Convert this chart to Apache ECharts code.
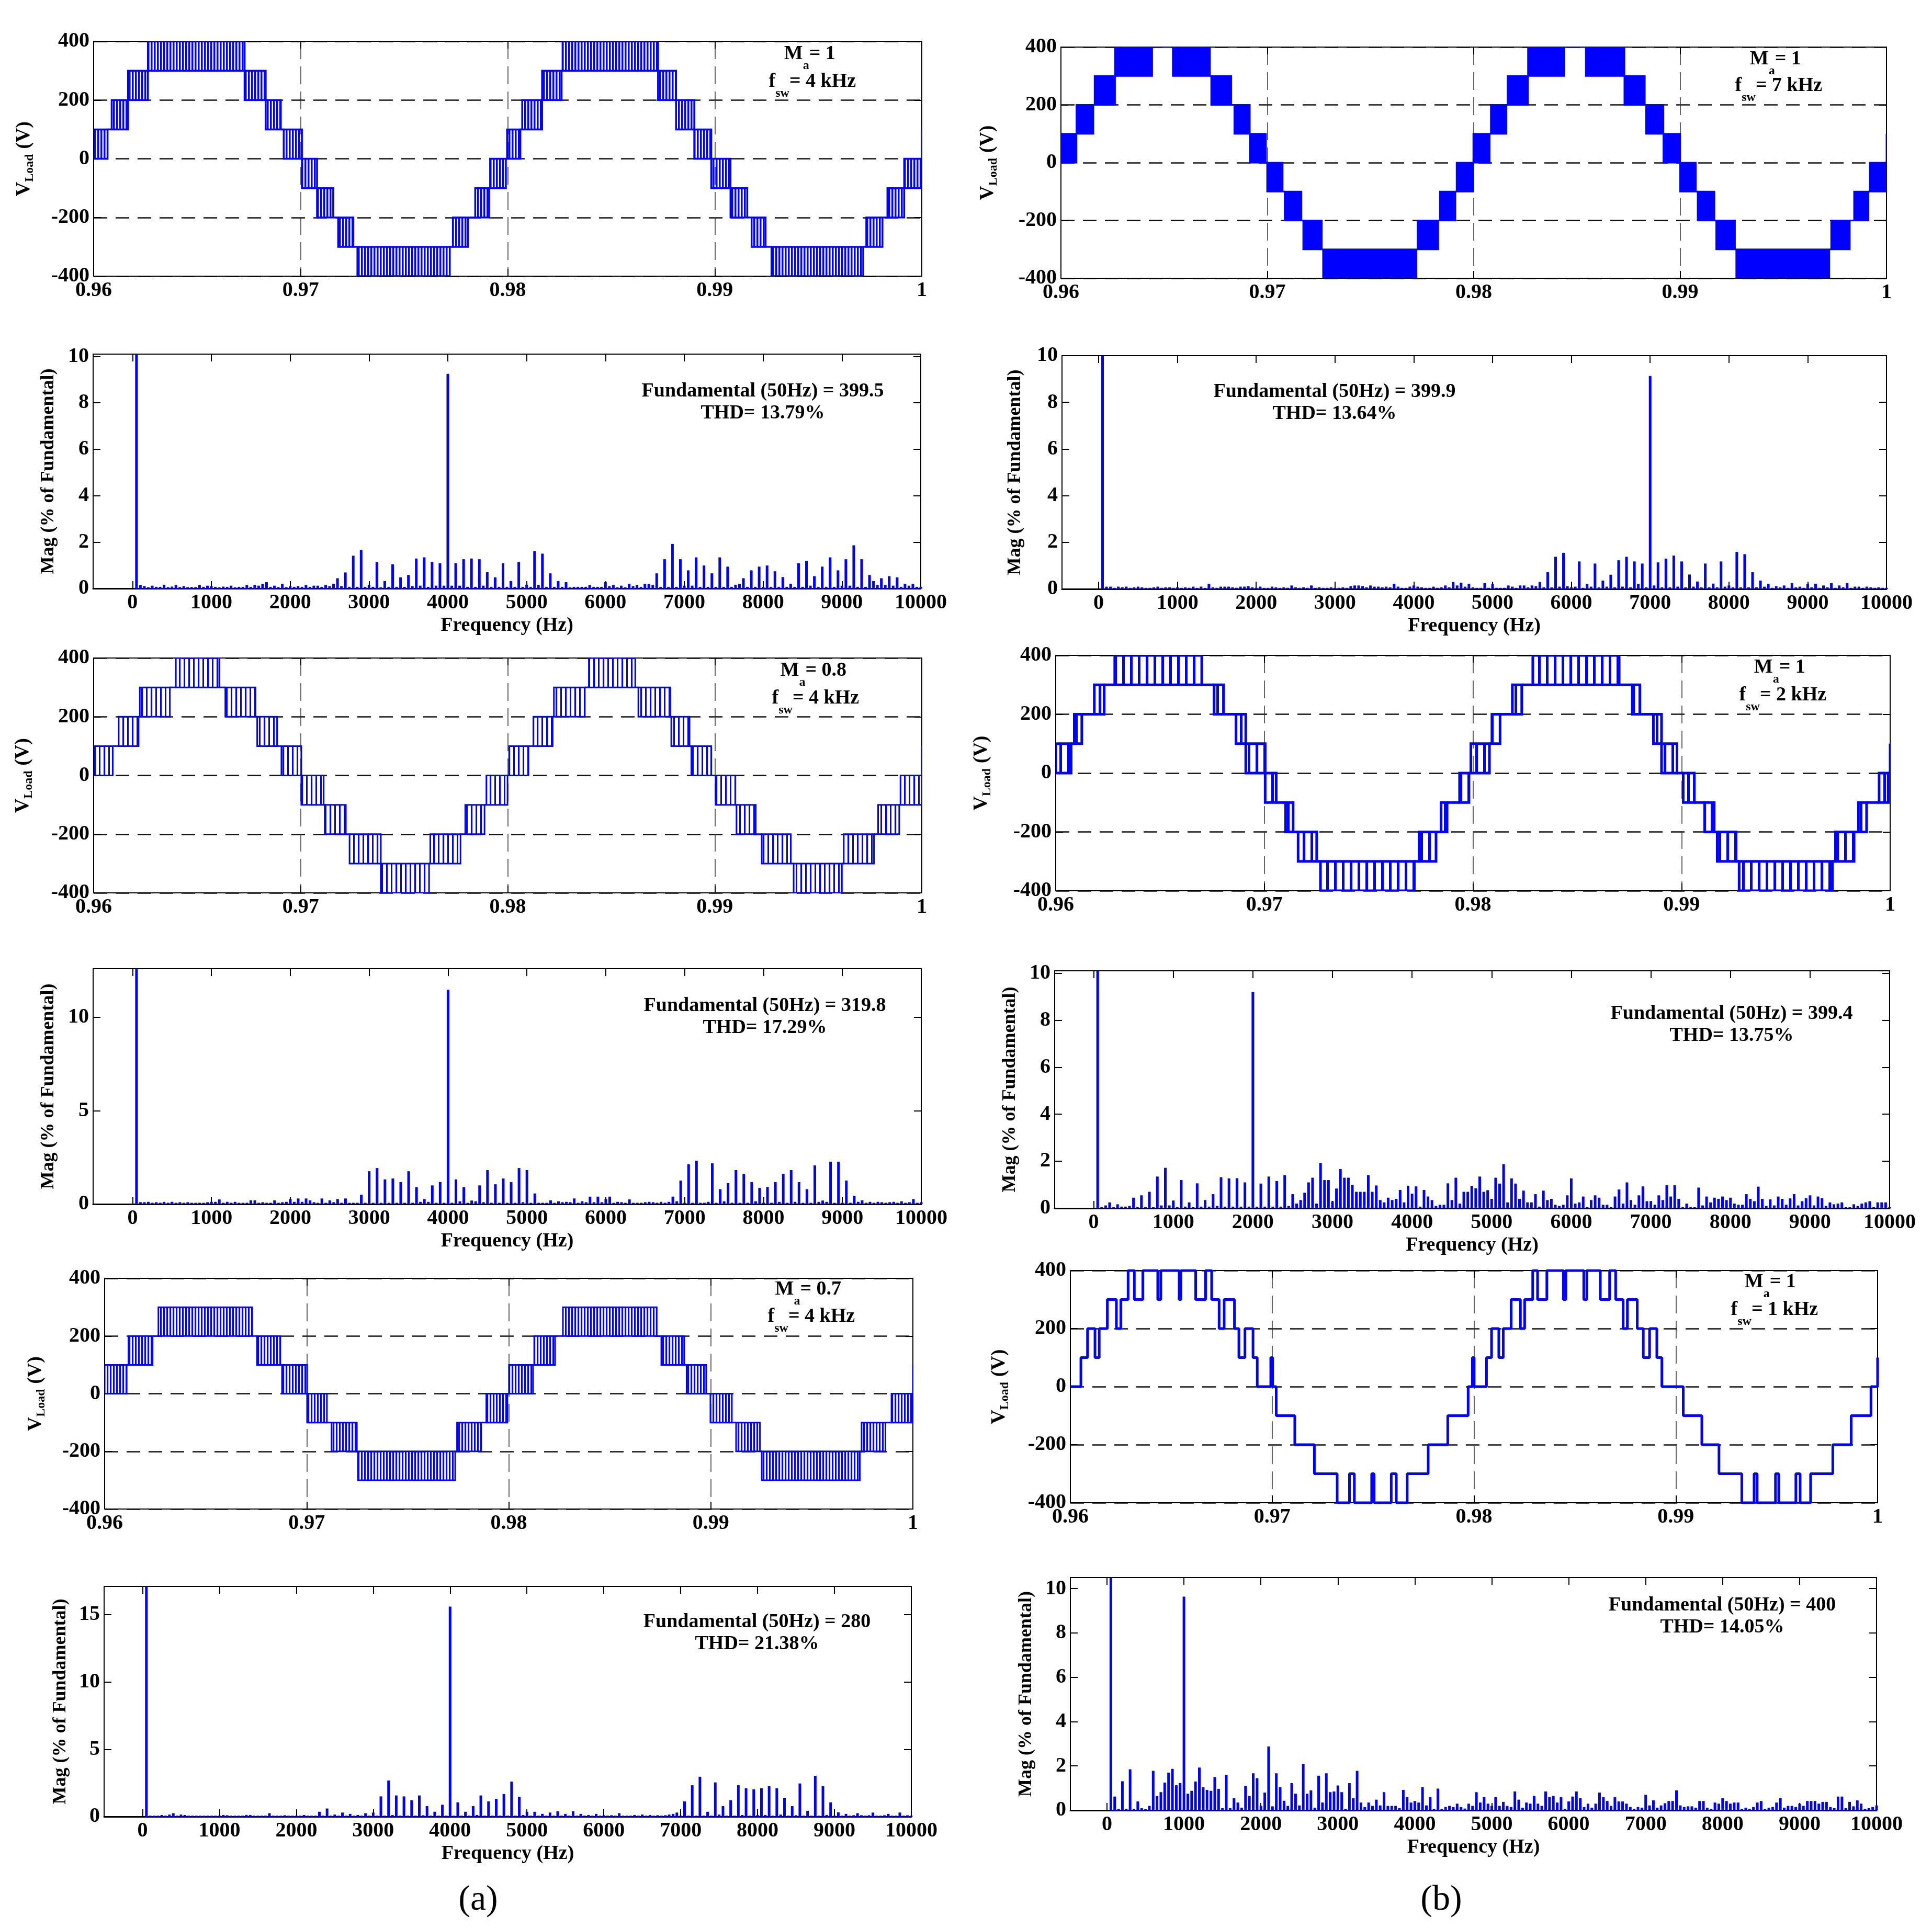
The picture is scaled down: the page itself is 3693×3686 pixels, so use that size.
<!DOCTYPE html>
<html>
<head>
<meta charset="utf-8">
<script src="https://cdn.jsdelivr.net/npm/echarts@6.0.0/dist/echarts.min.js"></script>
<style>
  html, body { margin: 0; background: #fff; }
  #chart { width: 3693px; height: 3686px; }
</style>
</head>
<body>
<div id="chart"></div>
<script>
// ---- waveform data: PWM bands [tStart, tEnd, lowLevel, highLevel] (s, V) ----
const bandsA1 = [
  [0.96, 0.96067, 0, 100], [0.96087, 0.96166, 100, 200], [0.96166, 0.96262, 200, 300],
  [0.96262, 0.96729, 300, 400], [0.96729, 0.96831, 200, 300], [0.96831, 0.96904, 100, 200],
  [0.96918, 0.97006, 0, 100], [0.97006, 0.97079, -100, 0], [0.97079, 0.97157, -200, -100],
  [0.97181, 0.97254, -300, -200], [0.97274, 0.9772, -400, -300], [0.97735, 0.97808, -300, -200],
  [0.97843, 0.9791, -200, -100], [0.97915, 0.97991, -100, 0], [0.97997, 0.98061, 0, 100],
  [0.9807, 0.98166, 100, 200], [0.98166, 0.9826, 200, 300], [0.98265, 0.98726, 300, 400],
  [0.98726, 0.98813, 200, 300], [0.98813, 0.98901, 100, 200], [0.98901, 0.98983, 0, 100],
  [0.98983, 0.99076, -100, 0], [0.99076, 0.99157, -200, -100], [0.99178, 0.99245, -300, -200],
  [0.99274, 0.99717, -400, -300], [0.99732, 0.9981, -300, -200], [0.99834, 0.99915, -200, -100],
  [0.99915, 0.99994, -100, 0], [1, 1, 0, 100]
];
const bandsA2 = [
  [0.96, 0.96092, 0, 100], [0.96121, 0.96217, 100, 200], [0.96223, 0.96368, 200, 300],
  [0.96397, 0.96607, 300, 400], [0.96636, 0.96782, 200, 300], [0.9679, 0.96886, 100, 200],
  [0.96907, 0.97003, 0, 100], [0.97003, 0.97111, -100, 0], [0.97116, 0.97218, -200, -100],
  [0.97236, 0.97387, -300, -200], [0.97387, 0.9762, -400, -300], [0.97626, 0.97772, -300, -200],
  [0.97795, 0.97888, -200, -100], [0.97897, 0.97999, -100, 0], [0.98007, 0.981, 0, 100],
  [0.98124, 0.98217, 100, 200], [0.98223, 0.98372, 200, 300], [0.98392, 0.98616, 300, 400],
  [0.98631, 0.98785, 200, 300], [0.9879, 0.98878, 100, 200], [0.98887, 0.98983, 0, 100],
  [0.99004, 0.99099, -100, 0], [0.99105, 0.99198, -200, -100], [0.99227, 0.99367, -300, -200],
  [0.99381, 0.99614, -400, -300], [0.99623, 0.99769, -300, -200], [0.99789, 0.99891, -200, -100],
  [0.99897, 1, -100, 0], [1, 1, 0, 100]
];
const bandsA3 = [
  [0.96, 0.96109, 0, 100], [0.96118, 0.96237, 100, 200], [0.96266, 0.9673, 200, 300],
  [0.96754, 0.96869, 100, 200], [0.96878, 0.97002, 0, 100], [0.97002, 0.971, -100, 0],
  [0.97123, 0.97248, -200, -100], [0.97254, 0.97735, -300, -200], [0.97744, 0.97863, -200, -100],
  [0.97889, 0.97993, -100, 0], [0.98001, 0.9812, 0, 100], [0.98126, 0.98229, 100, 200],
  [0.98268, 0.98732, 200, 300], [0.98755, 0.98868, 100, 200], [0.9888, 0.98977, 0, 100],
  [0.98998, 0.99104, -100, 0], [0.99125, 0.99243, -200, -100], [0.99252, 0.99737, -300, -200],
  [0.99746, 0.99864, -200, -100], [0.99894, 0.99997, -100, 0], [1, 1, 0, 100]
];
const bandsB1 = [
  [0.96, 0.96075, 0, 100], [0.96075, 0.96157, 100, 200], [0.96163, 0.96262, 200, 300],
  [0.96262, 0.96442, 300, 400], [0.96542, 0.96722, 300, 400], [0.96728, 0.96825, 200, 300],
  [0.9684, 0.96915, 100, 200], [0.96915, 0.96993, 0, 100], [0.96999, 0.97074, -100, 0],
  [0.97084, 0.97165, -200, -100], [0.97174, 0.97264, -300, -200], [0.9727, 0.97722, -400, -300],
  [0.97728, 0.97828, -300, -200], [0.97836, 0.97911, -200, -100], [0.97917, 0.97998, -100, 0],
  [0.97998, 0.98077, 0, 100], [0.98083, 0.98158, 100, 200], [0.98164, 0.98263, 200, 300],
  [0.98263, 0.98438, 300, 400], [0.98543, 0.9873, 300, 400], [0.9873, 0.98829, 200, 300],
  [0.98835, 0.98919, 100, 200], [0.98919, 0.99, 0, 100], [0.99, 0.99076, -100, 0],
  [0.99085, 0.99166, -200, -100], [0.99175, 0.99266, -300, -200], [0.99272, 0.99723, -400, -300],
  [0.99732, 0.99822, -300, -200], [0.99843, 0.99912, -200, -100], [0.99919, 1, -100, 0],
  [1, 1, 0, 100]
];
const bandsB2 = [
  [0.96, 0.96074, 0, 100], [0.96089, 0.96125, 100, 200], [0.96185, 0.96232, 200, 300],
  [0.96283, 0.967, 300, 400], [0.96759, 0.96804, 200, 300], [0.96864, 0.96911, 100, 200],
  [0.96911, 0.97004, 0, 100], [0.97004, 0.97057, -100, 0], [0.97102, 0.97138, -200, -100],
  [0.97162, 0.97251, -300, -200], [0.97269, 0.97719, -400, -300], [0.97742, 0.97823, -300, -200],
  [0.97847, 0.97876, -200, -100], [0.97936, 0.97981, -100, 0], [0.9799, 0.98079, 0, 100],
  [0.98091, 0.9813, 100, 200], [0.98189, 0.98234, 200, 300], [0.98287, 0.98701, 300, 400],
  [0.98764, 0.988, 200, 300], [0.98865, 0.98904, 100, 200], [0.98904, 0.98978, 0, 100],
  [0.99008, 0.99061, -100, 0], [0.99111, 0.99156, -200, -100], [0.99171, 0.99261, -300, -200],
  [0.99276, 0.99723, -400, -300], [0.99738, 0.99827, -300, -200], [0.99848, 0.99887, -200, -100],
  [0.99947, 0.99991, -100, 0], [1, 1, 0, 100]
];
// 1 kHz waveform: [time, level from this time on]
const stepsB3 = [
  [0.96, 0], [0.96052, 100], [0.96085, 200], [0.96122, 100], [0.96143, 200], [0.96183, 300],
  [0.96228, 200], [0.9625, 300], [0.96286, 400], [0.96317, 300], [0.96359, 400], [0.96433, 300],
  [0.96448, 400], [0.96539, 300], [0.96548, 400], [0.96621, 300], [0.9667, 400], [0.967, 300],
  [0.96737, 200], [0.96762, 300], [0.96813, 200], [0.96835, 100], [0.96865, 200], [0.96905, 100],
  [0.96926, 0], [0.96993, 100], [0.97002, 0], [0.9702, -100], [0.97112, -200], [0.97209, -300],
  [0.97322, -400], [0.97383, -300], [0.97407, -400], [0.97493, -300], [0.97505, -400], [0.9759, -300],
  [0.97615, -400], [0.97669, -300], [0.97773, -200], [0.9787, -100], [0.97971, 0], [0.97992, 100],
  [0.98001, 0], [0.98062, 100], [0.98087, 200], [0.98123, 100], [0.98145, 200], [0.98184, 300],
  [0.9823, 200], [0.98251, 300], [0.98291, 400], [0.98315, 300], [0.98361, 400], [0.98443, 300],
  [0.98455, 400], [0.98544, 300], [0.98559, 400], [0.98626, 300], [0.98672, 400], [0.98702, 300],
  [0.98739, 200], [0.9876, 300], [0.98809, 200], [0.98839, 100], [0.9887, 200], [0.98906, 100],
  [0.98931, 0], [0.99037, -100], [0.99129, -200], [0.99214, -300], [0.99327, -400], [0.99388, -300],
  [0.99403, -400], [0.99494, -300], [0.9951, -400], [0.99595, -300], [0.99616, -400], [0.99668, -300],
  [0.99778, -200], [0.99869, -100], [0.99967, 0], [1, 100]
];

// ---- spectra: magnitude (% of fundamental) of harmonics 1..200 (50 Hz each) ----
const binHz = 50;
const magA1 = [
  100, .15, .1, .05, .12, .07, .07, .16, .06, .08, .15, .06, .1, .06, .06, .06, .15, .07, .12, .1,
  .07, .05, .08, .07, .12, .05, .07, .07, .15, .07, .15, .12, .2, .27, .07, .12, .06, .2, .06, .1,
  .07, .1, .07, .15, .07, .12, .12, .07, .15, .1, .2, .44, .1, .69, .07, 1.41, .07, 1.66, .07, .16,
  .07, 1.14, .05, .32, .07, 1.04, .07, .48, .07, .58, .1, 1.29, .12, 1.34, .07, 1.14, .12, 1.09, .12, 9.25,
  .12, 1.09, .12, 1.26, .07, 1.29, .07, 1.26, .12, .7, .07, .48, .07, 1.09, .07, .32, .07, 1.14, .07, .16,
  .07, 1.61, .15, 1.5, .07, .65, .07, .32, .07, .27, .05, .07, .07, .07, .07, .15, .07, .07, .07, .27,
  .1, .15, .05, .12, .05, .2, .1, .15, .07, .2, .2, .15, .65, .07, 1.26, .07, 1.92, .07, 1.26, .12,
  .78, .12, 1.34, .07, .99, .07, .65, .07, 1.34, .07, .94, .07, .16, .2, .44, .07, .78, .07, .94, .07,
  .99, .07, .74, .07, .49, .07, .2, .07, 1.09, .07, 1.19, .12, .53, .07, .94, .07, 1.34, .07, .78, .12,
  1.26, .12, 1.86, .07, 1.26, .07, .58, .32, .15, .44, .15, .53, .12, .48, .07, .2, .12, .2, .07, .07
];
const magB1 = [
  100, .1, .1, .05, .1, .07, .1, .05, .07, .1, .07, .05, .05, .07, .1, .05, .07, .07, .05, .07,
  .05, .07, .05, .1, .05, .1, .05, .22, .07, .05, .1, .1, .1, .07, .05, .1, .1, .12, .07, .05,
  .1, .05, .05, .1, .07, .05, .07, .05, .15, .07, .05, .07, .05, .15, .05, .07, .05, .05, .07, .05,
  .05, .07, .05, .12, .15, .15, .12, .07, .15, .1, .1, .07, .1, .07, .22, .1, .05, .05, .1, .15,
  .1, .07, .05, .05, .1, .05, .07, .15, .07, .3, .15, .27, .1, .22, .07, .05, .05, .25, .05, .22,
  .05, .05, .05, .15, .1, .05, .15, .15, .07, .15, .12, .3, .07, .72, .07, 1.38, .1, 1.55, .12, .07,
  .1, 1.18, .05, .22, .1, 1.09, .07, .36, .1, .61, .07, 1.23, .1, 1.38, .07, 1.18, .22, 1.09, .07, 9.13,
  .15, 1.14, .07, 1.3, .07, 1.43, .1, 1.18, .07, .62, .1, .32, .07, 1.09, .07, .23, .07, 1.18, .1, .15,
  .07, 1.59, .07, 1.49, .07, .72, .07, .36, .1, .22, .05, .12, .07, .15, .05, .25, .07, .1, .05, .22,
  .07, .22, .05, .15, .07, .25, .05, .15, .07, .25, .05, .1, .1, .05, .1, .07, .05, .07, .05, .05
];
const magA2 = [
  100, .1, .1, .12, .07, .1, .07, .12, .07, .12, .07, .1, .07, .1, .07, .07, .07, .07, .1, .12,
  .12, .25, .07, .12, .07, .12, .07, .07, .07, .2, .2, .07, .1, .07, .07, .2, .07, .1, .12, .27,
  .12, .3, .12, .3, .2, .1, .07, .3, .07, .2, .1, .27, .07, .3, .07, .07, .07, .5, .07, 1.76,
  .07, 1.93, .07, 1.32, .07, 1.37, .07, 1.18, .07, 1.76, .07, .91, .12, .27, .12, 1.0, .07, 1.18, .07, 11.47,
  .07, 1.32, .15, .91, .07, .19, .15, 1.0, .1, 1.82, .07, 1.06, .07, 1.37, .07, 1.18, .07, 1.93, .1, 1.82,
  .07, .57, .07, .07, .07, .2, .07, .15, .1, .12, .1, .3, .07, .15, .1, .4, .1, .4, .1, .27,
  .4, .07, .12, .1, .07, .25, .07, .07, .07, .1, .12, .1, .07, .12, .07, .12, .4, .15, 1.26, .07,
  2.13, .07, 2.32, .07, .07, .12, 2.18, .07, .8, .15, 1.12, .07, 1.82, .07, 1.62, .07, 1.18, .15, .87, .07,
  .92, .07, 1.18, .12, 1.62, .07, 1.82, .12, 1.18, .07, .8, .07, 2.07, .12, .19, .12, 2.27, .07, 2.27, .07,
  1.26, .07, .44, .12, .2, .07, .12, .07, .12, .1, .07, .1, .12, .07, .15, .07, .1, .27, .07, .1
];
const magB2 = [
  100, .05, .12, .25, .05, .17, .07, .07, .1, .45, .05, .55, .05, .7, .05, 1.35, .12, 1.72, .12, .33,
  .05, 1.2, .07, .25, .05, 1.06, .07, .35, .07, .6, .1, 1.32, .07, 1.27, .07, 1.28, .07, 1.1, .07, 9.2,
  .07, 1.05, .07, 1.35, .07, 1.16, .07, 1.41, .1, .6, .2, .35, .66, 1.1, 1.3, .2, 1.92, 1.2, 1.2, .3,
  .84, 1.67, 1.3, 1.3, 1.0, .7, .7, .7, 1.41, .7, .97, .35, .25, .45, .35, .4, .78, .25, .96, .62,
  .93, .07, .78, .5, .35, .1, .15, .15, 1.06, .35, 1.3, .2, .7, .7, .95, .85, 1.35, .7, .77, .4,
  1.3, 1.05, 1.88, .25, 1.27, 1.05, .4, .75, .25, .25, .6, .07, .75, .35, .4, .15, .1, .15, .55, 1.27,
  .2, .25, .5, .05, .35, .55, .45, .15, .15, .05, .5, .8, .2, 1.1, .35, .15, .55, .93, .3, .3,
  .15, .55, .35, .98, .5, .98, .4, .05, .2, .05, .05, .88, .12, .5, .25, .45, .4, .5, .35, .45,
  .2, .15, .15, .6, .4, .3, .92, .4, .1, .38, .12, .5, .4, .15, .42, .6, .12, .3, .43, .55,
  .12, .5, .43, .1, .25, .17, .2, .25, .05, .05, .17, .1, .2, .25, .3, .05, .25, .25, .25, .05
];
const magA3 = [
  100, .07, .07, .07, .12, .07, .15, .25, .07, .15, .12, .07, .07, .07, .07, .07, .07, .07, .07, .07,
  .12, .1, .07, .07, .07, .07, .12, .12, .07, .07, .07, .07, .25, .07, .07, .07, .1, .07, .07, .07,
  .07, .12, .07, .07, .07, .36, .07, .6, .07, .15, .07, .3, .07, .2, .07, .12, .07, .25, .07, .3,
  .07, 1.5, .07, 2.68, .12, 1.57, .07, 1.5, .07, 1.22, .07, 1.57, .1, .78, .07, .36, .07, .88, .07, 15.6,
  .07, 1.06, .07, .36, .07, .78, .12, 1.57, .07, 1.13, .07, 1.32, .07, 1.68, .07, 2.6, .07, 1.47, .12, .36,
  .07, .36, .07, .2, .07, .3, .07, .4, .07, .2, .07, .4, .07, .2, .07, .12, .07, .2, .07, .1,
  .07, .1, .07, .25, .07, .07, .07, .12, .07, .15, .07, .12, .07, .1, .07, .1, .15, .2, .3, .07,
  1.13, .07, 2.33, .07, 2.96, .07, .36, .07, 2.54, .15, .78, .07, 1.22, .07, 2.33, .12, 2.11, .07, 2.03, .12,
  2.11, .12, 2.26, .07, 2.11, .15, 1.4, .07, .78, .1, 2.46, .07, .43, .07, 3.03, .07, 2.26, .12, 1.06, .07,
  .32, .07, .2, .07, .1, .25, .1, .07, .1, .3, .07, .07, .1, .2, .07, .07, .3, .07, .1, .07
];
const magB3 = [
  100, .62, .07, 1.31, .07, 1.85, .07, .4, .1, .05, .2, 1.78, .64, .82, 1.25, 1.7, 1.87, 1.13, 1.23, 9.64,
  .75, .88, 1.3, 1.93, 1.04, .92, .88, 1.5, .97, .1, 1.6, .1, .55, .35, .12, 1.1, .65, 1.67, 1.45, .2,
  .8, 2.88, .18, 1.67, 1.05, .43, .2, 1.23, .75, .22, 2.1, .75, .9, .12, 1.56, .35, 1.67, .82, .85, 1.12,
  .82, .07, 1.23, .55, 1.78, .35, .15, .35, .2, .48, .22, .82, .2, .2, .2, .1, .92, .6, .35, .42,
  .35, 1.04, .22, .6, .07, .98, .07, .15, .2, .15, .3, .15, .08, .3, .2, .82, .35, .6, .3, .2,
  .6, .2, .38, .2, .15, .85, .48, .12, .35, .3, .65, .3, .2, .85, .6, .65, .35, .6, .07, .4,
  .62, .85, .55, .15, .3, .12, .3, .8, .6, .42, .2, .6, .4, .4, .3, .15, .07, .15, .12, .7,
  .22, .45, .12, .22, .32, .42, .42, .9, .22, .15, .18, .18, .12, .42, .42, .12, .07, .35, .3, .55,
  .42, .3, .35, .35, .07, .12, .07, .15, .35, .42, .07, .12, .15, .35, .55, .12, .2, .2, .15, .3,
  .2, .42, .42, .42, .3, .38, .38, .15, .1, .62, .62, .1, .38, .18, .45, .3, .07, .1, .15, .22
];

// ---- tick labels ----
const freqTicks = [0, 1000, 2000, 3000, 4000, 5000, 6000, 7000, 8000, 9000, 10000];
const magTicks2 = [0, 2, 4, 6, 8, 10];
const magTicks5 = [0, 5, 10];
const magTicks15 = [0, 5, 10, 15];

// ---- annotation texts ----
const fundA1 = ['Fundamental (50Hz) = 399.5', 'THD= 13.79%'];
const fundB1 = ['Fundamental (50Hz) = 399.9', 'THD= 13.64%'];
const fundA2 = ['Fundamental (50Hz) = 319.8', 'THD= 17.29%'];
const fundB2 = ['Fundamental (50Hz) = 399.4', 'THD= 13.75%'];
const fundA3 = ['Fundamental (50Hz) = 280', 'THD= 21.38%'];
const fundB3 = ['Fundamental (50Hz) = 400', 'THD= 14.05%'];

const BLUE = '#0000ff';
const serif = '"Liberation Serif", "Times New Roman", Times, serif';

// layout + style per panel
const panels = [
  { kind: 'wave', box: [179, 79, 1583, 449], bands: bandsA1, pitch: 6, stripe: 3.5, lw: 3.5, gap: 110, ma: '1', fsw: '4', m: [1548, 105], f: [1553, 158] },
  { kind: 'spec', box: [178, 677, 1582, 448], mag: magA1, xMin: -500, yMax: 10.1, yTicks: magTicks2, gap: 67, note: fundA1, at: [1458, 769] },
  { kind: 'wave', box: [179, 1258, 1583, 449], bands: bandsA2, pitch: 9, stripe: 3, lw: 3, gap: 112, ma: '0.8', fsw: '4', m: [1555, 1284], f: [1559, 1337] },
  { kind: 'spec', box: [178, 1852, 1583, 450], mag: magA2, xMin: -500, yMax: 12.6, yTicks: magTicks5, gap: 67, note: fundA2, at: [1462, 1944] },
  { kind: 'wave', box: [200, 2444, 1545, 441], bands: bandsA3, pitch: 6, stripe: 3, lw: 3, gap: 109, ma: '0.7', fsw: '4', m: [1545, 2467], f: [1551, 2519] },
  { kind: 'spec', box: [199, 3033, 1543, 440], mag: magA3, xMin: -500, yMax: 17.1, yTicks: magTicks15, gap: 65, note: fundA3, at: [1447, 3122] },
  { kind: 'wave', box: [2028, 90, 1578, 442], bands: bandsB1, pitch: 0, stripe: 0, lw: 3, gap: 117, ma: '1', fsw: '7', m: [3394, 115], f: [3400, 166] },
  { kind: 'spec', box: [2030, 680, 1576, 446], mag: magB1, xMin: -465, yMax: 10, yTicks: magTicks2, gap: 71, note: fundB1, at: [2551, 770] },
  { kind: 'wave', box: [2018, 1253, 1595, 450], bands: bandsB2, pitch: 15, stripe: 5, lw: 5, gap: 119, ma: '1', fsw: '2', m: [3402, 1278], f: [3408, 1331] },
  { kind: 'spec', box: [2016, 1856, 1596, 454], mag: magB2, xMin: -490, yMax: 10.1, yTicks: magTicks2, gap: 67, note: fundB2, at: [3310, 1959] },
  { kind: 'wave', box: [2046, 2429, 1543, 444], steps: stepsB3, lw: 5, gap: 113, ma: '1', fsw: '1', m: [3384, 2453], f: [3392, 2506] },
  { kind: 'spec', box: [2046, 3016, 1541, 445], mag: magB3, xMin: -476, yMax: 10.5, yTicks: magTicks2, gap: 66, note: fundB3, at: [3292, 3090] }
];

const tickFont = { color: '#000', fontFamily: serif, fontSize: 40, fontWeight: 'bold' };
const boxLine = { show: true, onZero: false, lineStyle: { color: '#000', width: 2 } };
const inTick = (vals) => ({ show: true, inside: true, length: 14, lineStyle: { color: '#000', width: 2 }, customValues: vals });
const subRich = (main, sub, pad) => ({
  m: { fontFamily: serif, fontSize: main, fontWeight: 'bold', lineHeight: main + 2, verticalAlign: 'top', color: '#000' },
  s: { fontFamily: serif, fontSize: sub, fontWeight: 'bold', lineHeight: sub, verticalAlign: 'bottom', color: '#000' },
  z: { fontSize: 1, lineHeight: pad }
});

function stripes(pitch, w) {
  const c = document.createElement('canvas');
  c.width = pitch; c.height = 8;
  const g = c.getContext('2d');
  g.fillStyle = BLUE;
  g.fillRect(0, 0, w, 8);
  return { image: c, repeat: 'repeat' };
}

function sharedLevel(a, b) {
  if (a[3] === b[2]) return a[3];
  if (a[2] === b[3]) return a[2];
  return a[2] >= 0 ? a[3] : a[2];
}

function bandRenderer(p) {
  const fill = p.pitch ? stripes(p.pitch, p.stripe) : BLUE;
  return function (params, api) {
    const i = params.dataIndex;
    const b = p.bands[i], nb = p.bands[i + 1];
    const tl = api.coord([b[0], b[3]]);
    const br = api.coord([b[1], b[2]]);
    const kids = [{
      type: 'rect',
      shape: { x: tl[0], y: tl[1], width: br[0] - tl[0], height: br[1] - tl[1] },
      style: { fill: fill, stroke: BLUE, lineWidth: p.lw }
    }];
    if (nb) {
      const lv = sharedLevel(b, nb);
      const q0 = api.coord([b[1], lv]), q1 = api.coord([nb[0], lv]);
      kids.push({ type: 'line', shape: { x1: q0[0], y1: q0[1], x2: q1[0], y2: q1[1] }, style: { stroke: BLUE, lineWidth: p.lw } });
    }
    return { type: 'group', children: kids };
  };
}

const grid = [], xAxis = [], yAxis = [], series = [], graphic = [];

panels.forEach((p, i) => {
  grid.push({ left: p.box[0], top: p.box[1], width: p.box[2], height: p.box[3] });
  const xi = xAxis.length, yi = yAxis.length;
  if (p.kind === 'wave') {
    const xBase = { type: 'value', gridIndex: i, min: 0.96, max: 1, interval: 0.01, axisLine: boxLine };
    xAxis.push(Object.assign({}, xBase, {
      position: 'bottom',
      axisTick: inTick(), axisLabel: Object.assign({}, tickFont, { margin: 8, formatter: v => String(+v.toFixed(2)) }),
      splitLine: { show: true, lineStyle: { color: '#333', width: 1.5, type: [34, 14] } }
    }));
    xAxis.push(Object.assign({}, xBase, { position: 'top', axisTick: inTick(), axisLabel: { show: false }, splitLine: { show: false } }));
    const yBase = { type: 'value', gridIndex: i, min: -400, max: 400, interval: 200, axisLine: boxLine };
    yAxis.push(Object.assign({}, yBase, {
      position: 'left',
      axisTick: inTick(), axisLabel: Object.assign({}, tickFont, { margin: 8, formatter: v => String(v) }),
      splitLine: { show: true, lineStyle: { color: '#111', width: 2.5, type: [26, 16] } },
      name: '{m|V}{s|Load}{m| (V)}{z| }', nameLocation: 'middle', nameRotate: 90, nameGap: p.gap,
      nameTextStyle: { rich: subRich(38, 24, 42) }
    }));
    yAxis.push(Object.assign({}, yBase, { position: 'right', axisTick: inTick(), axisLabel: { show: false }, splitLine: { show: false } }));

    if (p.bands) {
      series.push({
        type: 'custom', coordinateSystem: 'cartesian2d', xAxisIndex: xi, yAxisIndex: yi,
        data: p.bands, encode: { x: [0, 1], y: [2, 3] }, clip: true, silent: true,
        renderItem: bandRenderer(p)
      });
    } else {
      series.push({
        type: 'line', xAxisIndex: xi, yAxisIndex: yi, data: p.steps, step: 'end',
        showSymbol: false, symbol: 'none', clip: true, silent: true,
        lineStyle: { color: BLUE, width: p.lw }
      });
    }
    graphic.push({
      type: 'text', x: p.m[0], y: p.m[1] - 21,
      style: { text: '{m|M}{s|a}{m|= ' + p.ma + '}{z| }', rich: subRich(38, 24, 54), align: 'center', verticalAlign: 'top', textAlign: 'center', textVerticalAlign: 'top' }
    });
    graphic.push({
      type: 'text', x: p.f[0], y: p.f[1] - 21,
      style: { text: '{m|f}{s|sw}{m|= ' + p.fsw + ' kHz}{z| }', rich: subRich(38, 24, 54), align: 'center', verticalAlign: 'top', textAlign: 'center', textVerticalAlign: 'top' }
    });
  } else {
    const xBase = { type: 'value', gridIndex: i, min: p.xMin, max: 10000, axisLine: boxLine, splitLine: { show: false } };
    xAxis.push(Object.assign({}, xBase, {
      position: 'bottom',
      axisLine: { show: true, onZero: false, lineStyle: { color: '#000', width: 3 } },
      axisTick: inTick(freqTicks),
      axisLabel: Object.assign({}, tickFont, { margin: 8, customValues: freqTicks, formatter: v => String(v) }),
      name: 'Frequency (Hz)', nameLocation: 'middle', nameGap: 52,
      nameTextStyle: { color: '#000', fontFamily: serif, fontSize: 38, fontWeight: 'bold' }
    }));
    xAxis.push(Object.assign({}, xBase, { position: 'top', axisTick: inTick(freqTicks), axisLabel: { show: false } }));
    const yBase = { type: 'value', gridIndex: i, min: 0, max: p.yMax, axisLine: boxLine, splitLine: { show: false } };
    yAxis.push(Object.assign({}, yBase, {
      position: 'left',
      axisTick: inTick(p.yTicks),
      axisLabel: Object.assign({}, tickFont, { margin: 8, customValues: p.yTicks, formatter: v => String(v) }),
      name: 'Mag (% of Fundamental)', nameLocation: 'middle', nameRotate: 90, nameGap: p.gap,
      nameTextStyle: { color: '#000', fontFamily: serif, fontSize: 36, fontWeight: 'bold' }
    }));
    yAxis.push(Object.assign({}, yBase, { position: 'right', axisTick: inTick(p.yTicks), axisLabel: { show: false } }));

    series.push({
      type: 'bar', xAxisIndex: xi, yAxisIndex: yi, barWidth: 5, clip: true, silent: true,
      itemStyle: { color: BLUE },
      data: p.mag.map((m, k) => [(k + 1) * binHz, m])
    });
    graphic.push({
      type: 'text', x: p.at[0], y: p.at[1],
      style: {
        text: p.note.join('\n'), fill: '#000', fontFamily: serif, fontSize: 38, fontWeight: 'bold', lineHeight: 42,
        align: 'center', verticalAlign: 'middle', textAlign: 'center', textVerticalAlign: 'middle'
      }
    });
  }
});

['(a)', '(b)'].forEach((t, k) => {
  graphic.push({
    type: 'text', x: k ? 2755 : 914, y: 3633,
    style: { text: t, fill: '#000', fontFamily: serif, fontSize: 68, align: 'center', verticalAlign: 'middle', textAlign: 'center', textVerticalAlign: 'middle' }
  });
});

const chart = echarts.init(document.getElementById('chart'));
chart.setOption({
  animation: false,
  backgroundColor: '#fff',
  grid, xAxis, yAxis, series, graphic
});
</script>
</body>
</html>
